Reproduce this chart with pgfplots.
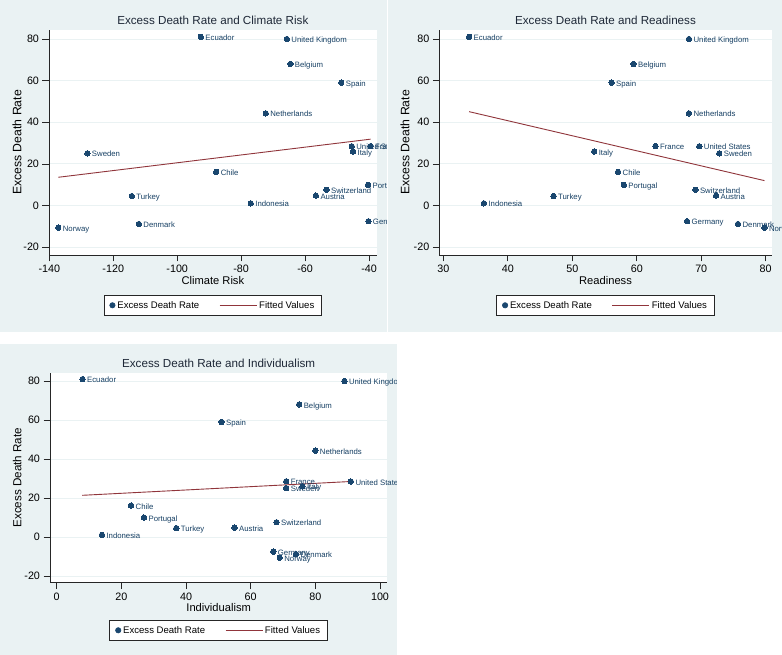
\documentclass[border=0pt]{standalone}
\usepackage{fontspec}
\setmainfont{Liberation Sans}
\usepackage{pgfplots}
\pgfplotsset{compat=1.18}
\usepackage{pgfplotstable}
\definecolor{panelbg}{RGB}{234,242,243}
\definecolor{navy}{RGB}{26,71,111}
\definecolor{maroon}{RGB}{144,53,59}
\definecolor{gridc}{RGB}{234,242,243}
\definecolor{titlec}{RGB}{30,40,55}

\pgfplotstableread[col sep=comma]{
x,y,label
-92.6,81.0,Ecuador
-65.7,80.0,United Kingdom
-64.6,68.0,Belgium
-48.7,59.0,Spain
-72.3,44.3,Netherlands
-128.1,25.1,Sweden
-87.8,16.2,Chile
-114.2,4.6,Turkey
-77.0,1.1,Indonesia
-137.2,-10.6,Norway
-112.0,-8.8,Denmark
-53.3,7.6,Switzerland
-56.6,4.8,Austria
-40.3,10.0,Portugal
-40.2,-7.5,Germany
-45.4,28.5,United States
-45.0,26.0,Italy
-39.5,28.6,France
}\climate

\pgfplotstableread[col sep=comma]{
x,y,label
34.0,81.0,Ecuador
68.1,80.0,United Kingdom
59.5,68.0,Belgium
56.1,59.0,Spain
68.1,44.3,Netherlands
62.9,28.6,France
69.7,28.5,United States
72.8,25.1,Sweden
53.4,26.0,Italy
57.1,16.2,Chile
58.0,10.0,Portugal
69.1,7.6,Switzerland
72.3,4.8,Austria
47.1,4.6,Turkey
36.3,1.1,Indonesia
67.8,-7.5,Germany
75.7,-8.8,Denmark
79.8,-10.6,Norway
}\readiness

\pgfplotstableread[col sep=comma]{
x,y,label
8,81.0,Ecuador
89,80.0,United Kingdom
75,68.0,Belgium
51,59.0,Spain
80,44.3,Netherlands
71,28.6,France
71,25.1,Sweden
76,26.0,Italy
91,28.5,United States
23,16.2,Chile
27,10.0,Portugal
37,4.6,Turkey
55,4.8,Austria
68,7.6,Switzerland
14,1.1,Indonesia
67,-7.5,Germany
74,-8.8,Denmark
69,-10.6,Norway
}\indiv

\pgfplotsset{
  stata/.style={
    scale only axis, clip=false,
    axis lines=left,
    axis line style={-, line width=0.7bp, color=black!85},
    tick align=outside, major tick length=6.5bp,
    tick style={line width=0.7bp, color=black!85},
    ytick={-20,0,20,40,60,80},
    ymin=-23.7, ymax=84.3,
    ymajorgrids, grid style={line width=0.9bp, color=gridc},
    /pgf/number format/assume math mode=true,
    tick label style={font=\fontsize{10.8}{12}\selectfont, color=black},
    label style={font=\fontsize{11.2}{13}\selectfont, color=black},
    xlabel style={at={(axis description cs:0.5,0)}, anchor=base, yshift=-30bp},
    title style={at={(axis description cs:0.5,1)}, anchor=base, yshift=0bp, font=\fontsize{11.7}{13}\selectfont, color=titlec},
    axis background/.style={fill=white},
    legend columns=2,
    legend cell align=left,
    legend style={at={(0.5,0)}, anchor=north, yshift=-40bp, draw=black!85, line width=0.6bp, fill=white,
      font=\fontsize{9.6}{11}\selectfont, inner xsep=5.5bp, inner ysep=3.8bp,
      /tikz/every even column/.append style={column sep=18bp}},
    ylabel style={anchor=center, font=\fontsize{12.3}{14}\selectfont},
  },
  pts/.style={only marks, mark=*, mark size=2.7bp, color=navy, mark options={draw=navy, fill=navy, line width=0bp},
    nodes near coords, point meta=explicit symbolic,
    nodes near coords style={anchor=west, inner sep=1bp, xshift=3.6bp, text height=0.72em, text depth=0pt,
      font=\fontsize{7.8}{9}\selectfont, color=navy!90!black},
    legend image code/.code={\fill[navy] (2.5bp,0bp) circle (2.7bp);}},
  fit/.style={color=maroon, line width=0.9bp, no marks,
    legend image code/.code={\draw[maroon, line width=0.9bp] (0bp,0bp) -- (37bp,0bp);}},
}

\begin{document}
\begin{tikzpicture}[x=1bp,y=1bp]
\fill[white] (0,0) rectangle (782,655);
\fill[panelbg] (0,323.3) rectangle (386.7,655);
\fill[panelbg] (388,323.3) rectangle (782,655);
\fill[panelbg] (0,0) rectangle (396.7,310.7);

\begin{scope}
\clip (0,323.3) rectangle (386.7,655);
\begin{axis}[stata, at={(49bp,400bp)}, anchor=south west, width=327.7bp, height=225bp,
  xmin=-140.1, xmax=-37.6, xtick={-140,-120,-100,-80,-60,-40},
  title={Excess Death Rate and Climate Risk}, xlabel={Climate Risk}, ylabel={Excess Death Rate},
  ylabel style={at={(axis description cs:-0.0977,0.5)}}]
\addplot[pts] table[x=x, y=y, meta=label] {\climate};
\addlegendentry{Excess Death Rate}
\addplot[fit] coordinates {(-137.2,13.6) (-39.5,31.9)};
\addlegendentry{Fitted Values}
\end{axis}
\end{scope}

\begin{scope}
\clip (388,323.3) rectangle (782,655);
\begin{axis}[stata, at={(439.3bp,400bp)}, anchor=south west, width=332.4bp, height=225bp,
  xmin=29.38, xmax=80.93, xtick={30,40,50,60,70,80},
  title={Excess Death Rate and Readiness}, xlabel={Readiness}, ylabel={Excess Death Rate},
  ylabel style={at={(axis description cs:-0.1032,0.5)}}]
\addplot[pts] table[x=x, y=y, meta=label] {\readiness};
\addlegendentry{Excess Death Rate}
\addplot[fit] coordinates {(34.0,45.1) (79.8,12.0)};
\addlegendentry{Fitted Values}
\end{axis}
\end{scope}

\begin{scope}
\clip (0,0) rectangle (396.7,310.7);
\begin{axis}[stata, at={(50bp,72.3bp)}, anchor=south west, width=337.3bp, height=210bp,
  xmin=-2.07, xmax=102.26, ymin=-23.4, ymax=84.26, xtick={0,20,40,60,80,100},
  title={Excess Death Rate and Individualism}, xlabel={Individualism}, ylabel={Excess Death Rate},
  title style={yshift=-0.6bp},
  xlabel style={yshift=1bp},
  legend style={yshift=2.7bp},
  ylabel style={at={(axis description cs:-0.097,0.5)}, font=\fontsize{11.7}{13}\selectfont}]
\addplot[pts] table[x=x, y=y, meta=label] {\indiv};
\addlegendentry{Excess Death Rate}
\addplot[fit] coordinates {(7.9,21.4) (91.2,28.5)};
\addlegendentry{Fitted Values}
\end{axis}
\end{scope}

\pgfresetboundingbox
\path[use as bounding box] (0,0) rectangle (782,655);
\end{tikzpicture}
\end{document}
